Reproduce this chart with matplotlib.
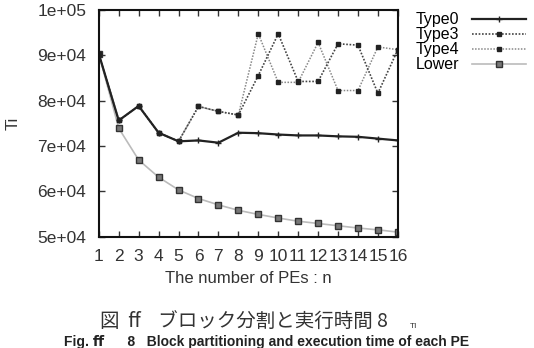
import matplotlib
matplotlib.use("Agg")
from matplotlib import pyplot as plt

n_values = list(range(1, 17))
type0 = [90300, 75600, 78800, 72900, 71000, 71200, 70700, 72900,
         72800, 72500, 72300, 72300, 72100, 72000, 71600, 71200]
type3 = [90300, 75600, 78800, 72900, 71000, 78700, 77600, 76800,
         85500, 94700, 84200, 84200, 92500, 92200, 81600, 91200]
type4 = [90300, 75600, 78800, 72900, 71000, 78700, 77600, 76800,
         94700, 84000, 84000, 92800, 82200, 82200, 91800, 91200]
lower = [90300, 73900, 66900, 63100, 60300, 58400, 57000, 55800,
         54900, 54100, 53400, 52900, 52400, 51900, 51500, 51000]

y_ticks = [50000, 60000, 70000, 80000, 90000, 100000]
y_tick_labels = ["5e+04", "6e+04", "7e+04", "8e+04", "9e+04", "1e+05"]

caption_line1 = "図  ﬀ    ブロック分割と実行時間 8"
caption_sub = "TI"
caption_line2 = "Fig. ﬀ      8   Block partitioning and execution time of each PE"


def main():
    plt.rcParams["font.family"] = ["Liberation Sans", "DejaVu Sans"]
    figure = plt.figure(figsize=(5.34, 3.48), dpi=100)
    axis = figure.add_axes([0.185, 0.32, 0.56, 0.652])

    axis.plot(n_values, lower, color="#bbbbbb", linewidth=1.2,
              marker="s", markersize=4, markerfacecolor="#777777",
              markeredgecolor="#333333", label="Lower")
    axis.plot(n_values, type4, color="#888888", linewidth=1.1,
              linestyle=(0, (1, 1)), marker="s", markersize=3,
              markerfacecolor="#222222", markeredgecolor="#222222",
              label="Type4")
    axis.plot(n_values, type3, color="#444444", linewidth=1.2,
              linestyle=(0, (1, 1)), marker="s", markersize=3.5,
              markerfacecolor="#222222", markeredgecolor="#222222",
              label="Type3")
    axis.plot(n_values, type0, color="#222222", linewidth=1.6,
              marker="+", markersize=4, label="Type0")

    axis.set_xlim(1, 16)
    axis.set_ylim(50000, 100000)
    axis.set_xticks(n_values)
    axis.set_xticklabels([str(n) for n in n_values], fontsize=12.5)
    axis.set_yticks(y_ticks)
    axis.set_yticklabels(y_tick_labels, fontsize=12.5)
    axis.tick_params(direction="in", top=True, right=True, length=4,
                     width=1, colors="#333333")
    axis.tick_params(axis="x", pad=9)
    axis.tick_params(axis="y", pad=9)
    for spine in axis.spines.values():
        spine.set_linewidth(1.5)
        spine.set_color("#111111")

    axis.set_xlabel("The number of PEs : n", fontsize=12, color="#333333",
                    labelpad=5)
    axis.set_ylabel("Ti", fontsize=12, color="#333333", labelpad=12)

    handles, labels = axis.get_legend_handles_labels()
    order = [3, 2, 1, 0]
    figure.legend([handles[i] for i in order], [labels[i] for i in order],
                  loc="upper right", bbox_to_anchor=(1.006, 0.997),
                  frameon=False, markerfirst=False, fontsize=11.5,
                  handlelength=3.4, labelspacing=0.0, handletextpad=0.8,
                  borderpad=0.2)

    figure.text(0.187, 0.075, caption_line1, ha="left", va="center",
                fontsize=14, color="#333333",
                family=["Noto Sans CJK JP", "DejaVu Sans"])
    figure.text(0.768, 0.063, caption_sub, ha="left", va="center",
                fontsize=6, color="#333333")
    figure.text(0.5, 0.018, caption_line2, ha="center", va="center",
                fontsize=10, fontweight="bold", color="#222222")

    figure.savefig("out.png", dpi=100)


main()
